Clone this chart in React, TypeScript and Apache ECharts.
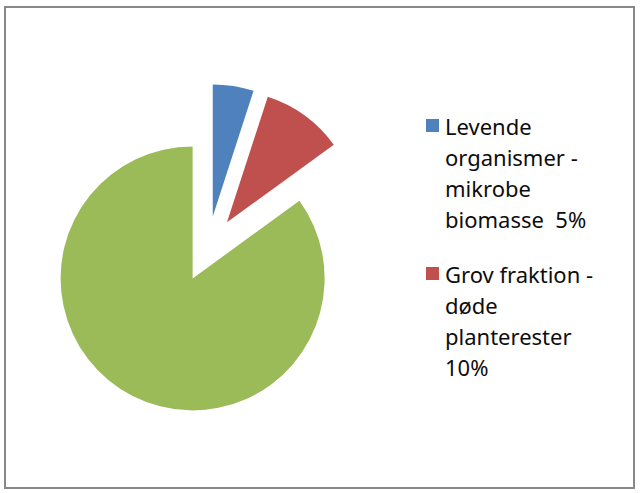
import React, { useEffect, useRef } from "react";
import * as echarts from "echarts";

const sliceNames = [
  "Levende organismer - mikrobe biomasse  5%",
  "Grov fraktion - døde planterester 10%",
  "",
];
const sliceValues = [5, 10, 85];
const sliceColors = ["#4F81BD", "#C0504D", "#9BBB59"];
const legendLines = [
  ["Levende", "organismer -", "mikrobe", "biomasse  5%"],
  ["Grov fraktion -", "døde", "planterester", "10%"],
];

export default function App() {
  const ref = useRef<HTMLDivElement>(null);
  useEffect(() => {
    if (!ref.current) return;
    const chart = echarts.init(ref.current, undefined, { renderer: "svg" });
    const rich: Record<string, any> = {
      pad: { width: 13, height: 13 },
      gap: { width: 6, height: 13 },
      t: {
        fontFamily: "Noto Sans",
        fontSize: 22,
        lineHeight: 31,
        color: "#0d0d0d",
        verticalAlign: "middle",
      },
    };
    legendLines.forEach((_, i) => {
      rich["sq" + i] = {
        width: 13,
        height: 13,
        backgroundColor: sliceColors[i],
        verticalAlign: "middle",
      };
    });
    chart.setOption({
      animation: false,
      backgroundColor: "#ffffff",
      graphic: [
        {
          type: "rect",
          shape: { x: 5, y: 7, width: 629, height: 481 },
          style: { fill: "none", stroke: "#888888", lineWidth: 2 },
          silent: true,
        },
      ],
      legend: {
        orient: "vertical",
        left: 421,
        top: 110,
        padding: 0,
        itemGap: 24,
        itemWidth: 0,
        itemHeight: 0,
        selectedMode: false,
        data: sliceNames.slice(0, 2),
        formatter: (name: string) => {
          const i = sliceNames.indexOf(name);
          return legendLines[i]
            .map((l, k) => (k === 0 ? `{sq${i}|}` : "{pad|}") + `{gap|}{t|${l}}`)
            .join("\n");
        },
        textStyle: { rich, fontFamily: "Noto Sans", fontSize: 22, lineHeight: 31 },
      },
      series: [
        {
          type: "pie",
          center: [207.6, 249],
          radius: 132,
          startAngle: 90,
          clockwise: true,
          selectedMode: "multiple",
          selectedOffset: 33,
          silent: true,
          label: { show: false },
          labelLine: { show: false },
          emphasis: { disabled: true },
          itemStyle: { borderWidth: 0 },
          data: sliceValues.map((v, i) => ({
            name: sliceNames[i],
            value: v,
            selected: true,
            itemStyle: { color: sliceColors[i] },
          })),
        },
      ],
    });
    return () => chart.dispose();
  }, []);
  return (
    <div
      ref={ref}
      style={{ position: "fixed", left: 0, top: 0, width: 640, height: 493, background: "#fff" }}
    />
  );
}
